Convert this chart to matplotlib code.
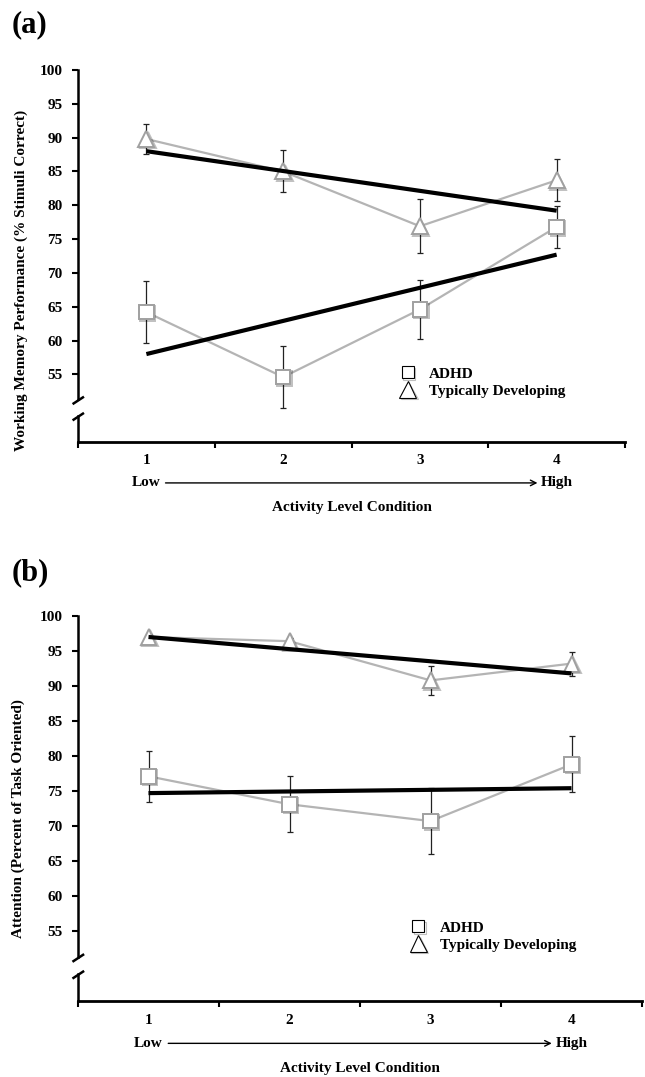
import numpy as np
import matplotlib
matplotlib.use('Agg')
import matplotlib.pyplot as plt
import matplotlib.patheffects as pe
import matplotlib.transforms as mtransforms
from matplotlib.lines import Line2D

plt.rcParams['font.family'] = ['Liberation Serif', 'DejaVu Serif']
plt.rcParams['font.weight'] = 'bold'

conditions = [1, 2, 3, 4]
cond_labels = ['1', '2', '3', '4']
y_ticks = [55, 60, 65, 70, 75, 80, 85, 90, 95, 100]
group_names = ['ADHD', 'Typically Developing']

# (a) working memory
wm_adhd = [64.2, 54.6, 64.6, 76.8]
wm_adhd_err = [4.6, 4.6, 4.3, 3.1]
wm_td = [89.8, 85.0, 76.9, 83.7]
wm_td_err = [2.2, 3.1, 4.0, 3.1]
wm_adhd_trend = [58.0, 72.7]
wm_td_trend = [88.0, 79.2]

# (b) attention
att_adhd = [77.1, 73.1, 70.7, 78.8]
att_adhd_err = [3.6, 4.0, 4.7, 4.0]
att_td = [97.0, 96.4, 90.8, 93.2]
att_td_err = [0.5, 0.5, 2.1, 1.7]
att_adhd_trend = [74.7, 75.4]
att_td_trend = [97.0, 91.8]

shadow = [pe.SimpleLineShadow(offset=(1, -1), shadow_color='black', alpha=0.25), pe.Normal()]


def draw_panel(ax, adhd, adhd_err, td, td_err, adhd_trend, td_trend,
               ylabel, ylab_pos, leg_pos):
    x = np.array(conditions)
    for vals, err, mk, ms in [(adhd, adhd_err, 's', 10.5), (td, td_err, '^', 11.5)]:
        ax.errorbar(x, vals, yerr=err, fmt='none', ecolor='#222222',
                    elinewidth=0.9, capsize=2.5, capthick=0.9, zorder=2)
        ax.plot(x, vals, color='#b4b4b4', lw=1.6, zorder=3)
        ax.plot(x, vals, ls='none', marker=mk, ms=ms, mfc='white',
                mec='#a0a0a0', mew=1.4, zorder=4, path_effects=shadow)
    ends = [conditions[0], conditions[-1]]
    ax.plot(ends, adhd_trend, color='black', lw=3, solid_capstyle='butt', zorder=5)
    ax.plot(ends, td_trend, color='black', lw=3, solid_capstyle='butt', zorder=5)

    ax.set_xlim(0.5, 4.5)
    ax.set_ylim(45, 100)

    # spines: left axis with a break
    for s in ['top', 'right', 'left']:
        ax.spines[s].set_visible(False)
    ax.spines['bottom'].set_linewidth(2)
    tr = mtransforms.blended_transform_factory(ax.transAxes, ax.transData)
    ax.plot([0, 0], [100, 51.3], color='black', lw=1.8, transform=tr, clip_on=False)
    ax.plot([0, 0], [48.8, 45], color='black', lw=1.8, transform=tr, clip_on=False)
    ax.plot([-0.008, 0.009], [50.7, 51.6], color='black', lw=1.8, transform=tr, clip_on=False)
    ax.plot([-0.008, 0.009], [48.3, 49.2], color='black', lw=1.8, transform=tr, clip_on=False)

    ax.set_yticks(y_ticks)
    ax.set_yticklabels([str(v) for v in y_ticks])
    ax.tick_params(axis='y', direction='out', length=4, width=1.5, pad=7, labelsize=11)

    ax.set_xticks(conditions)
    ax.set_xticklabels(cond_labels)
    ax.set_xticks([0.5, 1.5, 2.5, 3.5, 4.5], minor=True)
    ax.tick_params(axis='x', which='major', length=0, pad=9, labelsize=11)
    ax.tick_params(axis='x', which='minor', direction='out', length=4, width=1.5)

    ax.set_ylabel(ylabel, fontsize=11, fontweight='bold')
    ax.yaxis.set_label_coords(*ylab_pos)

    bt = mtransforms.blended_transform_factory(ax.transData, ax.transAxes)
    ax.text(conditions[0], -0.11, 'Low', transform=bt, ha='center', va='center', fontsize=11)
    ax.text(conditions[-1], -0.11, 'High', transform=bt, ha='center', va='center', fontsize=11)
    ax.annotate('', xy=(3.86, -0.11), xytext=(1.14, -0.11), xycoords=bt, textcoords=bt,
                arrowprops=dict(arrowstyle='->,head_length=0.4,head_width=0.2', lw=1.0,
                                color='black', shrinkA=0, shrinkB=0),
                annotation_clip=False)
    ax.text(0.5, -0.175, 'Activity Level Condition', transform=ax.transAxes,
            ha='center', va='center', fontsize=11)

    handles = [
        Line2D([], [], ls='none', marker='s', ms=8.5, mfc='white', mec='black', mew=0.8,
               path_effects=shadow),
        Line2D([], [], ls='none', marker='^', ms=12, mfc='white', mec='black', mew=0.8,
               path_effects=shadow),
    ]
    ax.legend(handles, group_names, loc='center left', bbox_to_anchor=leg_pos,
              frameon=False, fontsize=11, handlelength=1.0, handletextpad=0.9,
              borderpad=0, borderaxespad=0, labelspacing=0.25)


fig = plt.figure(figsize=(6.45, 10.77), dpi=100)
W, H = 645, 1077

ax_a = fig.add_axes([78 / W, 1 - 442 / H, (625 - 78) / W, (442 - 70) / H])
draw_panel(ax_a, wm_adhd, wm_adhd_err, wm_td, wm_td_err, wm_adhd_trend, wm_td_trend,
           'Working Memory Performance (% Stimuli Correct)', (-0.092, 0.435), (0.589, 0.160))

ax_b = fig.add_axes([78 / W, 1 - 1001 / H, (642 - 78) / W, (1001 - 616) / H])
draw_panel(ax_b, att_adhd, att_adhd_err, att_td, att_td_err, att_adhd_trend, att_td_trend,
           'Attention (Percent of Task Oriented)', (-0.094, 0.473), (0.590, 0.1675))

fig.text(12 / W, 1 - 25 / H, '(a)', fontsize=22, fontweight='bold', va='center', ha='left')
fig.text(12 / W, 1 - 573 / H, '(b)', fontsize=22, fontweight='bold', va='center', ha='left')

fig.savefig('out.png', dpi=100)
